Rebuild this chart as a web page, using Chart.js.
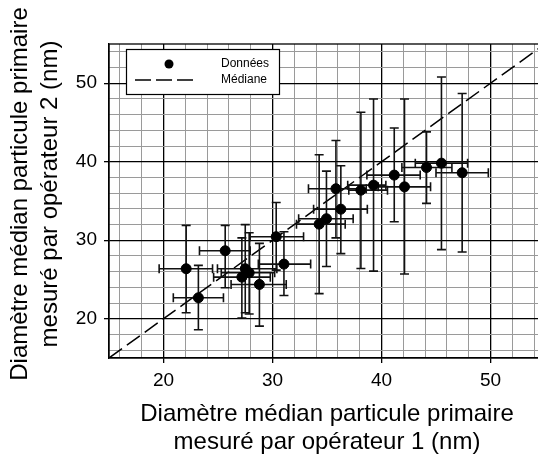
<!DOCTYPE html>
<html>
<head>
<meta charset="utf-8">
<script src="https://cdn.jsdelivr.net/npm/chart.js@4.4.1/dist/chart.umd.min.js"></script>
<style>
  html, body { margin: 0; padding: 0; background: #fff; overflow: hidden; }
  #wrap { width: 551px; height: 460px; overflow: hidden; }
  #chart { display: block; width: 551px; height: 460px; max-width: none; }
</style>
</head>
<body>
<div id="wrap"><canvas id="chart" width="551" height="460"></canvas></div>
<script>
// valeurs (opérateur 1 en x, opérateur 2 en y)
const xVals  = [22.08, 23.2, 25.66, 27.19, 27.5, 27.86, 28.8, 30.34, 31.05, 34.28, 34.95, 36.27, 35.82, 38.11, 39.27, 41.17, 42.11, 44.13, 45.5, 47.4];
const yVals  = [26.37, 22.67, 28.66, 25.3, 26.37, 25.86, 24.37, 30.45, 26.96, 32.05, 32.74, 33.96, 36.56, 36.38, 37.02, 38.3, 36.8, 39.27, 39.82, 38.6];
const xLow   = [19.6, 20.9, 23.3, 24.6, 24.95, 25.3, 26.2, 27.95, 28.7, 32.2, 32.4, 33.77, 33.3, 37.0, 36.9, 38.66, 39.7, 41.87, 43.1, 45.0];
const xHigh  = [24.5, 25.5, 27.95, 29.8, 30.4, 30.2, 31.26, 32.85, 33.5, 36.67, 37.4, 38.7, 38.6, 40.55, 40.4, 43.55, 44.5, 46.46, 47.9, 49.8];
const yLow   = [20.76, 18.6, 23.95, 20.1, 20.76, 20.6, 19.06, 26.2, 22.97, 23.2, 26.66, 28.3, 30.3, 26.4, 26.07, 32.36, 25.7, 34.7, 28.8, 28.5];
const yHigh  = [31.9, 26.8, 31.9, 30.3, 31.99, 30.95, 29.6, 34.8, 31.08, 40.9, 38.8, 39.5, 42.7, 46.3, 48.0, 44.3, 48.0, 43.8, 50.8, 48.7];

// droite médiane y = x
const medianX = [15, 55];
const medianY = [15, 55];

const axisMin = 15;
const axisMax = 55;
const majorTicks = [20, 30, 40, 50];
const minorStep = 2;

const legendLabels = ["Données", "Médiane"];
const xTitle = ["Diamètre médian particule primaire", "mesuré par opérateur 1 (nm)"];
const yTitle = ["Diamètre médian particule primaire", "mesuré par opérateur 2 (nm)"];

const FONT = "'Liberation Sans', Arial, sans-serif";
const isMajor = v => majorTicks.includes(v);

function gridTicks(scale) {
  const ticks = [];
  for (let v = 16; v <= 54; v += minorStep) ticks.push({ value: v });
  scale.ticks = ticks;
}

const gridOpts = {
  color: ctx => isMajor(ctx.tick && ctx.tick.value) ? "#000" : "#9a9a9a",
  lineWidth: ctx => isMajor(ctx.tick && ctx.tick.value) ? 1.3 : 1,
  tickColor: ctx => isMajor(ctx.tick && ctx.tick.value) ? "#000" : "rgba(0,0,0,0)",
  tickLength: 5
};

// cadre + barres d'erreur dessinées sous les points
const errorBars = {
  id: "errorBars",
  beforeDatasetsDraw(chart) {
    const { ctx, chartArea: a } = chart;
    ctx.save();
    ctx.strokeStyle = "#000";
    ctx.lineWidth = 1.3;
    ctx.strokeRect(a.left, a.top, a.right - a.left, a.bottom - a.top);
    ctx.restore();
  },
  beforeDatasetDraw(chart, args) {
    if (args.index !== 0) return;
    const { ctx, scales: { x, y } } = chart;
    const cap = 4.5;
    ctx.save();
    ctx.strokeStyle = "#111";
    ctx.lineWidth = 1.6;
    xVals.forEach((xv, i) => {
      const px = x.getPixelForValue(xv);
      const py = y.getPixelForValue(yVals[i]);
      const x0 = x.getPixelForValue(xLow[i]);
      const x1 = x.getPixelForValue(xHigh[i]);
      const y0 = y.getPixelForValue(yLow[i]);
      const y1 = y.getPixelForValue(yHigh[i]);
      ctx.beginPath();
      ctx.moveTo(x0, py); ctx.lineTo(x1, py);
      ctx.moveTo(x0, py - cap); ctx.lineTo(x0, py + cap);
      ctx.moveTo(x1, py - cap); ctx.lineTo(x1, py + cap);
      ctx.moveTo(px, y0); ctx.lineTo(px, y1);
      ctx.moveTo(px - cap, y0); ctx.lineTo(px + cap, y0);
      ctx.moveTo(px - cap, y1); ctx.lineTo(px + cap, y1);
      ctx.stroke();
    });
    ctx.restore();
  }
};

// légende encadrée dans le coin haut gauche + titre vertical
const boxLegend = {
  id: "boxLegend",
  afterDatasetsDraw(chart) {
    const { ctx, chartArea: a } = chart;
    const bx = a.left + 17, by = a.top + 5, bw = 153, bh = 45;
    ctx.save();
    ctx.fillStyle = "#fff";
    ctx.fillRect(bx, by, bw, bh);
    ctx.strokeStyle = "#000";
    ctx.lineWidth = 1.2;
    ctx.strokeRect(bx + 0.5, by + 0.5, bw, bh);

    ctx.fillStyle = "#000";
    ctx.beginPath();
    ctx.arc(bx + 43, by + 15, 4.5, 0, Math.PI * 2);
    ctx.fill();

    ctx.setLineDash([16, 5]);
    ctx.lineWidth = 1.5;
    ctx.beginPath();
    ctx.moveTo(bx + 9, by + 31);
    ctx.lineTo(bx + 72, by + 31);
    ctx.stroke();
    ctx.setLineDash([]);

    ctx.font = "12px " + FONT;
    ctx.textBaseline = "middle";
    ctx.textAlign = "left";
    ctx.fillText(legendLabels[0], bx + 95, by + 15);
    ctx.fillText(legendLabels[1], bx + 95, by + 31);
    ctx.restore();
  },
  afterDraw(chart) {
    const ctx = chart.ctx;
    ctx.save();
    ctx.translate(20, 194);
    ctx.rotate(-Math.PI / 2);
    ctx.fillStyle = "#000";
    ctx.font = "24px " + FONT;
    ctx.textAlign = "center";
    ctx.textBaseline = "middle";
    yTitle.forEach((line, i) => ctx.fillText(line, 0, i * 30));
    ctx.restore();
  }
};

new Chart(document.getElementById("chart"), {
  type: "scatter",
  data: {
    datasets: [
      {
        label: legendLabels[0],
        data: xVals.map((v, i) => ({ x: v, y: yVals[i] })),
        backgroundColor: "#000",
        borderColor: "#000",
        pointRadius: 5,
        pointHoverRadius: 5
      },
      {
        label: legendLabels[1],
        data: medianX.map((v, i) => ({ x: v, y: medianY[i] })),
        showLine: true,
        borderColor: "#000",
        borderWidth: 1.5,
        borderDash: [16, 6],
        pointRadius: 0
      }
    ]
  },
  options: {
    responsive: false,
    animation: false,
    devicePixelRatio: 1,
    layout: { padding: { top: 44, right: 0, bottom: 0, left: 0 } },
    plugins: {
      legend: { display: false },
      tooltip: { enabled: false }
    },
    scales: {
      x: {
        type: "linear",
        min: axisMin,
        max: axisMax,
        afterBuildTicks: gridTicks,
        afterFit: s => { s.height = 102; },
        grid: gridOpts,
        border: { color: "#000", width: 1.3 },
        ticks: {
          autoSkip: false,
          maxRotation: 0,
          padding: 6,
          color: "#000",
          font: { family: FONT, size: 19 },
          callback: v => isMajor(v) ? String(v) : ""
        },
        title: {
          display: true,
          text: xTitle,
          color: "#000",
          font: { family: FONT, size: 24, lineHeight: 1.15 },
          padding: { top: 0, bottom: 4 }
        }
      },
      y: {
        type: "linear",
        min: axisMin,
        max: axisMax,
        afterBuildTicks: gridTicks,
        afterFit: s => { s.width = 109; },
        grid: gridOpts,
        border: { color: "#000", width: 1.3 },
        ticks: {
          autoSkip: false,
          padding: 7,
          color: "#000",
          font: { family: FONT, size: 19 },
          callback: v => isMajor(v) ? String(v) : ""
        },
        title: { display: false }
      }
    }
  },
  plugins: [errorBars, boxLegend]
});
</script>
</body>
</html>
